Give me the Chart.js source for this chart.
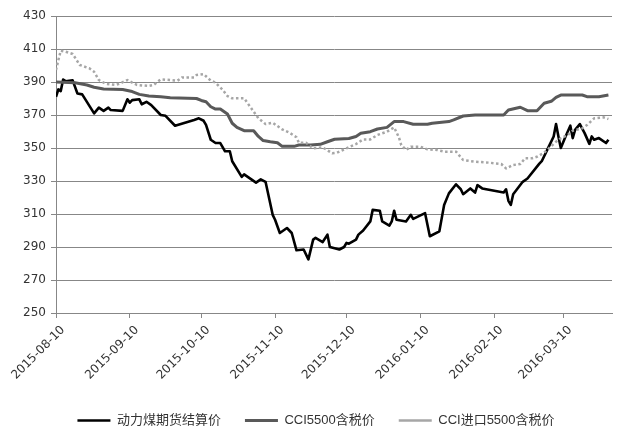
<!DOCTYPE html>
<html>
<head>
<meta charset="utf-8">
<script src="https://cdn.jsdelivr.net/npm/chart.js@4.4.0/dist/chart.umd.min.js"></script>
<style>
  html, body { margin: 0; padding: 0; background: #fff; }
  #wrap { width: 622px; height: 440px; }
</style>
</head>
<body>
<div id="wrap"><canvas id="chart"></canvas></div>
<script>
// 动力煤期货结算价 vs CCI5500 / CCI进口5500 含税价, 2015-08 ~ 2016-03

const START = '2015-08-10';
const END = '2016-03-30';
const tickDates = ['2015-08-10', '2015-09-10', '2015-10-10', '2015-11-10',
                   '2015-12-10', '2016-01-10', '2016-02-10', '2016-03-10'];
const yMin = 250, yMax = 430, yStep = 20;

const seriesNames = ['动力煤期货结算价', 'CCI5500含税价', 'CCI进口5500含税价'];

// 动力煤期货结算价
const futDates = [
  '2015-08-10','2015-08-11','2015-08-12','2015-08-13','2015-08-14','2015-08-17','2015-08-19','2015-08-21','2015-08-26','2015-08-28','2015-08-30',
  '2015-09-01','2015-09-02','2015-09-07','2015-09-09','2015-09-10','2015-09-11','2015-09-14','2015-09-15','2015-09-17','2015-09-19','2015-09-23','2015-09-25','2015-09-29',
  '2015-10-07','2015-10-09','2015-10-11','2015-10-12','2015-10-14','2015-10-16','2015-10-18','2015-10-20','2015-10-22','2015-10-23','2015-10-27','2015-10-28',
  '2015-11-02','2015-11-04','2015-11-06','2015-11-09','2015-11-10','2015-11-12','2015-11-15','2015-11-17','2015-11-19','2015-11-22','2015-11-24','2015-11-26','2015-11-27','2015-11-30',
  '2015-12-02','2015-12-03','2015-12-07','2015-12-09','2015-12-10','2015-12-11','2015-12-14','2015-12-15','2015-12-17','2015-12-20','2015-12-21','2015-12-24','2015-12-25','2015-12-28','2015-12-29','2015-12-30','2015-12-31',
  '2016-01-04','2016-01-06','2016-01-07','2016-01-12','2016-01-14','2016-01-18','2016-01-19','2016-01-20','2016-01-22','2016-01-25','2016-01-27','2016-01-28','2016-01-31',
  '2016-02-02','2016-02-03','2016-02-05','2016-02-14','2016-02-15','2016-02-16','2016-02-17','2016-02-18','2016-02-22','2016-02-24','2016-02-29',
  '2016-03-01','2016-03-04','2016-03-06','2016-03-07','2016-03-08','2016-03-09','2016-03-11','2016-03-13','2016-03-14','2016-03-15','2016-03-17','2016-03-19','2016-03-21','2016-03-22','2016-03-23','2016-03-25','2016-03-28','2016-03-29'
];
const futValues = [
  381, 385.5, 384.5, 391.5, 390.5, 391, 383, 382.5, 371, 374.5, 372.5,
  374.5, 373, 372.5, 379.5, 377.5, 379, 379.5, 376.5, 378, 376, 370, 369.5, 363.5,
  367, 368, 366.5, 364, 355, 353, 353, 348, 348, 342, 332.5, 334,
  329, 331, 329.5, 309.5, 306.5, 298.5, 301.5, 298.5, 288, 288.5, 282.5, 294.5, 295.5, 293,
  297.5, 290, 288.5, 290, 292.5, 292, 294.5, 297.5, 300, 305.5, 312.5, 312, 305.5, 303, 305.5, 312, 306.5,
  305.5, 309.5, 307, 310.5, 296.5, 299.5, 307.5, 315.5, 322.5, 328, 325, 322, 325.5,
  323, 327.5, 325.5, 323, 325, 318, 315.5, 322, 329.5, 331.5, 340.5,
  342, 351, 357, 364.5, 357, 350, 357, 363.5, 356, 361, 364.5, 359, 352.5, 357, 355, 356, 353, 355
];

// CCI5500含税价
const cciDates = [
  '2015-08-10','2015-08-18','2015-08-23','2015-08-26','2015-08-30',
  '2015-09-07','2015-09-11','2015-09-14','2015-09-18','2015-09-23','2015-09-27',
  '2015-10-08','2015-10-10','2015-10-12','2015-10-14','2015-10-16','2015-10-18','2015-10-21','2015-10-23','2015-10-25','2015-10-28',
  '2015-11-01','2015-11-03','2015-11-05','2015-11-08','2015-11-11','2015-11-13','2015-11-18','2015-11-20','2015-11-25','2015-11-29',
  '2015-12-02','2015-12-05','2015-12-11','2015-12-14','2015-12-16','2015-12-20','2015-12-23','2015-12-27','2015-12-30',
  '2016-01-03','2016-01-07','2016-01-13','2016-01-15','2016-01-22','2016-01-24','2016-01-28',
  '2016-02-02','2016-02-14','2016-02-16','2016-02-21','2016-02-24','2016-02-28',
  '2016-03-02','2016-03-05','2016-03-07','2016-03-09','2016-03-18','2016-03-20','2016-03-25','2016-03-29'
];
const cciValues = [
  390, 389.5, 388.2, 386.8, 385.8,
  385.5, 384.2, 382.5, 381.5, 381, 380.5,
  380, 378.8, 378, 375, 373.6, 373.6, 370.6, 365, 362.5, 360.5,
  360.5, 357, 354.5, 353.8, 353.2, 351, 351, 351.8, 351.8, 352.2,
  353.8, 355.3, 355.8, 357, 358.9, 359.9, 361.5, 362.5, 366,
  366, 364.4, 364.4, 365, 366, 367, 369.4,
  370, 370, 373, 374.7, 372.6, 372.6,
  377.1, 378.3, 380.7, 382.1, 382.1, 381.1, 381.1, 382.1
];

// CCI进口5500含税价
const impDates = [
  '2015-08-10','2015-08-11','2015-08-12','2015-08-14','2015-08-17','2015-08-20','2015-08-24','2015-08-26','2015-08-28','2015-08-31',
  '2015-09-04','2015-09-06','2015-09-09','2015-09-11','2015-09-13','2015-09-18','2015-09-20','2015-09-23','2015-09-27','2015-09-30',
  '2015-10-02','2015-10-07','2015-10-08','2015-10-11','2015-10-14','2015-10-16','2015-10-19','2015-10-21','2015-10-23','2015-10-28','2015-10-31',
  '2015-11-03','2015-11-06','2015-11-09','2015-11-11','2015-11-13','2015-11-16','2015-11-19','2015-11-20','2015-11-23','2015-11-26','2015-11-30',
  '2015-12-04','2015-12-06','2015-12-10','2015-12-14','2015-12-17','2015-12-20','2015-12-23','2015-12-25','2015-12-27','2015-12-30',
  '2016-01-01','2016-01-02','2016-01-04','2016-01-06','2016-01-10','2016-01-13','2016-01-17','2016-01-20','2016-01-25','2016-01-28',
  '2016-02-02','2016-02-08','2016-02-13','2016-02-15','2016-02-18','2016-02-21','2016-02-23','2016-02-26','2016-02-28',
  '2016-03-02','2016-03-04','2016-03-07','2016-03-09','2016-03-12','2016-03-14','2016-03-18','2016-03-20','2016-03-23','2016-03-27','2016-03-29'
];
const impValues = [
  397.3, 403.3, 409, 408.4, 407, 400.3, 398.3, 396.2, 391.2, 388.8,
  388.2, 389.2, 391.2, 389.6, 388.2, 387.6, 388.2, 391.6, 391.2, 390.8,
  392.8, 392.8, 394.2, 394.8, 390.8, 389.6, 385.2, 381.5, 380.1, 380.1, 374.1,
  368, 364.5, 365.3, 363.3, 361.3, 359.3, 356.5, 353.2, 353.2, 349.8, 350.4,
  346.8, 347.2, 349.8, 352.4, 355.2, 355.2, 357.9, 358.9, 359.9, 362.5,
  356.5, 351.8, 348.8, 350.8, 350.8, 349.2, 348.8, 347.8, 347.8, 342.7,
  341.7, 341.1, 340.3, 337.6, 339.7, 340.3, 343.8, 343.8, 344.7,
  347.2, 349.8, 353.8, 355.9, 357.9, 360.5, 361.9, 363.9, 368, 368.6, 367.6
];

// days since START, used as the x value
const dayOf = s => (Date.parse(s) - Date.parse(START)) / 86400000;
const toPoints = (dates, values) => dates.map((d, i) => ({ x: dayOf(d), y: values[i] }));

const FONT = 'DejaVu Sans';
const gridColor = '#878787';
const textColor = '#333333';

// nudge the legend row a bit right, like the original
const legendShift = {
  id: 'legendShift',
  afterLayout(chart) {
    chart.legend.left += 10;
    chart.legend.right += 10;
  }
};

new Chart(document.getElementById('chart'), {
  type: 'line',
  data: {
    datasets: [
      {
        label: seriesNames[0],
        data: toPoints(futDates, futValues),
        borderColor: '#000000',
        backgroundColor: '#000000',
        borderWidth: 2.6,
        order: 3
      },
      {
        label: seriesNames[1],
        data: toPoints(cciDates, cciValues),
        borderColor: '#595959',
        backgroundColor: '#595959',
        borderWidth: 3,
        order: 2
      },
      {
        label: seriesNames[2],
        data: toPoints(impDates, impValues),
        borderColor: '#a6a6a6',
        backgroundColor: '#a6a6a6',
        borderWidth: 2.5,
        borderDash: [2.5, 2.5],
        order: 1
      }
    ]
  },
  plugins: [legendShift],
  options: {
    responsive: true,
    maintainAspectRatio: false,
    animation: false,
    layout: { padding: { top: 16, right: 10, bottom: 3, left: 0 } },
    elements: {
      point: { radius: 0, hoverRadius: 0 },
      line: { tension: 0, borderJoinStyle: 'round', fill: false }
    },
    plugins: {
      tooltip: { enabled: false },
      legend: {
        display: true,
        position: 'bottom',
        labels: {
          sort: (a, b) => a.datasetIndex - b.datasetIndex,
          usePointStyle: true,
          pointStyle: 'line',
          pointStyleWidth: 33,
          boxWidth: 33,
          padding: 24,
          color: textColor,
          font: { size: 13, family: 'Liberation Sans, "Noto Sans CJK SC"' }
        }
      }
    },
    scales: {
      x: {
        type: 'linear',
        min: dayOf(START),
        max: dayOf(END) + 0.5,
        afterBuildTicks: scale => { scale.ticks = tickDates.map(d => ({ value: dayOf(d) })); },
        afterFit: scale => { scale.height = 77; },
        ticks: {
          callback: v => tickDates.find(d => dayOf(d) === v) || '',
          minRotation: 45,
          maxRotation: 45,
          autoSkip: false,
          labelOffset: 7,
          padding: 5,
          color: textColor,
          font: { size: 12, family: FONT }
        },
        grid: { drawOnChartArea: false, drawTicks: true, tickLength: 5, color: gridColor },
        border: { display: true, color: gridColor }
      },
      y: {
        min: yMin,
        max: yMax,
        afterFit: scale => { scale.width = 56; },
        ticks: {
          stepSize: yStep,
          padding: 5,
          color: textColor,
          font: { size: 12, family: FONT }
        },
        grid: { color: gridColor, tickLength: 5, drawTicks: true },
        border: { display: true, color: gridColor }
      }
    }
  }
});
</script>
</body>
</html>
